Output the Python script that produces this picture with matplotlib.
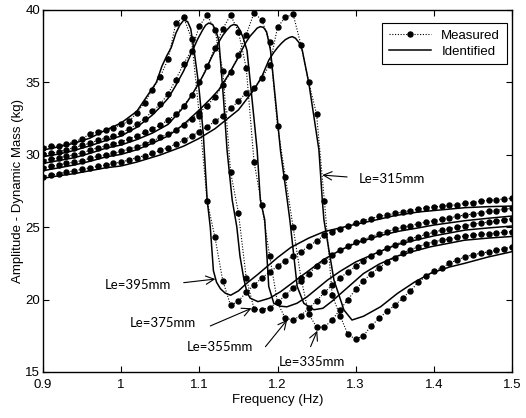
import numpy as np
import matplotlib
matplotlib.use("Agg")
import matplotlib.pyplot as plt

plt.rcParams["font.family"] = ["Liberation Sans", "DejaVu Sans"]

# measured sweep (Hz)
freq_meas = [0.90, 0.91, 0.92, 0.93, 0.94, 0.95, 0.96, 0.97, 0.98, 0.99,
             1.00, 1.01, 1.02, 1.03, 1.04, 1.05, 1.06, 1.07, 1.08, 1.09,
             1.10, 1.11, 1.12, 1.13, 1.14, 1.15, 1.16, 1.17, 1.18, 1.19,
             1.20, 1.21, 1.22, 1.23, 1.24, 1.25, 1.26, 1.27, 1.28, 1.29,
             1.30, 1.31, 1.32, 1.33, 1.34, 1.35, 1.36, 1.37, 1.38, 1.39,
             1.40, 1.41, 1.42, 1.43, 1.44, 1.45, 1.46, 1.47, 1.48, 1.49,
             1.50]

meas_395 = [30.50, 30.60, 30.60, 30.75, 30.90, 31.10, 31.45, 31.60, 31.70, 31.85,
            32.10, 32.30, 32.90, 33.60, 34.50, 35.40, 36.60, 39.10, 39.50, 38.00,
            32.70, 26.80, 24.30, 21.30, 19.60, 19.90, 20.50, 21.00, 21.50, 21.90,
            22.30, 22.70, 23.00, 23.30, 23.70, 24.05, 24.45, 24.70, 24.90, 25.10,
            25.30, 25.45, 25.60, 25.75, 25.85, 25.95, 26.05, 26.15, 26.25, 26.35,
            26.40, 26.45, 26.50, 26.55, 26.65, 26.70, 26.80, 26.85, 26.90, 26.95,
            27.00]
meas_375 = [30.05, 30.10, 30.20, 30.35, 30.50, 30.65, 30.80, 31.00, 31.15, 31.30,
            31.50, 31.80, 32.10, 32.50, 33.00, 33.50, 34.20, 35.20, 36.30, 37.20,
            38.90, 39.65, 38.60, 35.80, 28.80, 26.00, 21.50, 19.35, 19.30, 19.45,
            19.80, 20.30, 20.80, 21.30, 21.80, 22.30, 22.70, 23.10, 23.40, 23.70,
            23.95, 24.15, 24.35, 24.55, 24.70, 24.85, 25.00, 25.10, 25.25, 25.35,
            25.45, 25.55, 25.65, 25.75, 25.85, 25.90, 26.00, 26.10, 26.15, 26.25,
            26.30]
meas_355 = [29.60, 29.70, 29.80, 29.90, 30.00, 30.15, 30.30, 30.50, 30.60, 30.75,
            30.90, 31.10, 31.30, 31.55, 31.80, 32.05, 32.40, 32.80, 33.40, 34.10,
            35.00, 36.10, 37.40, 38.70, 39.65, 38.50, 36.00, 29.50, 26.50, 23.00,
            19.80, 18.70, 18.60, 18.90, 19.40, 19.90, 20.50, 21.00, 21.50, 21.90,
            22.30, 22.70, 23.00, 23.30, 23.55, 23.80, 24.00, 24.20, 24.35, 24.50,
            24.65, 24.80, 24.90, 25.00, 25.10, 25.20, 25.30, 25.35, 25.45, 25.50,
            25.60]
meas_335 = [29.10, 29.20, 29.30, 29.40, 29.50, 29.60, 29.75, 29.90, 30.00, 30.10,
            30.25, 30.40, 30.55, 30.75, 30.95, 31.20, 31.45, 31.70, 32.05, 32.45,
            32.90, 33.40, 34.00, 34.80, 35.70, 36.90, 38.30, 39.80, 39.30, 37.80,
            32.00, 28.50, 25.00, 21.50, 19.00, 18.10, 18.10, 18.60, 19.30, 20.00,
            20.70, 21.30, 21.80, 22.20, 22.60, 22.90, 23.20, 23.45, 23.65, 23.85,
            24.00, 24.10, 24.20, 24.30, 24.40, 24.45, 24.50, 24.55, 24.60, 24.65,
            24.70]
meas_315 = [28.50, 28.60, 28.70, 28.80, 28.90, 29.00, 29.10, 29.20, 29.30, 29.40,
            29.50, 29.65, 29.80, 29.95, 30.10, 30.30, 30.50, 30.75, 31.00, 31.30,
            31.60, 31.95, 32.30, 32.70, 33.20, 33.70, 34.30, 34.60, 35.30, 36.20,
            38.80, 39.50, 39.70, 37.60, 35.00, 32.80, 26.80, 20.30, 18.90, 17.60,
            17.26, 17.50, 18.20, 18.70, 19.20, 19.60, 20.10, 20.60, 21.20, 21.60,
            21.95, 22.20, 22.50, 22.75, 22.95, 23.10, 23.20, 23.30, 23.40, 23.50,
            23.65]

# identified model curves
f_id_395 = [0.90, 0.92, 0.94, 0.96, 0.98, 1.00, 1.02, 1.035, 1.045, 1.052, 1.058,
            1.064, 1.070, 1.075, 1.080, 1.085, 1.089, 1.093, 1.099, 1.105, 1.110,
            1.114, 1.118, 1.122, 1.127, 1.133, 1.140, 1.150, 1.160, 1.175, 1.187,
            1.20, 1.217, 1.24, 1.26, 1.28, 1.30, 1.33, 1.35, 1.38, 1.40, 1.44,
            1.47, 1.50]
a_id_395 = [30.33, 30.55, 30.80, 31.15, 31.70, 32.20, 33.00, 34.20, 35.00, 36.10,
            36.80, 37.40, 38.40, 38.95, 39.30, 39.20, 38.70, 37.30, 34.90, 31.50,
            26.90, 25.00, 22.00, 21.20, 20.75, 20.45, 20.30, 20.60, 21.10, 21.75,
            22.30, 22.90, 23.60, 24.25, 24.70, 24.95, 25.20, 25.55, 25.80, 26.05,
            26.15, 26.35, 26.42, 26.46]
f_id_375 = [0.90, 0.92, 0.94, 0.96, 0.98, 1.00, 1.02, 1.04, 1.05, 1.06, 1.07,
            1.08, 1.086, 1.092, 1.098, 1.104, 1.108, 1.112, 1.117, 1.121, 1.125,
            1.131, 1.1355, 1.142, 1.148, 1.152, 1.157, 1.161, 1.165, 1.175, 1.19,
            1.204, 1.23, 1.26, 1.28, 1.30, 1.33, 1.353, 1.38, 1.40, 1.44, 1.47, 1.50]
a_id_375 = [29.87, 30.05, 30.30, 30.62, 30.98, 31.30, 31.90, 32.75, 33.30, 33.90,
            34.80, 35.80, 36.55, 37.30, 38.00, 38.60, 38.95, 39.10, 39.00, 38.60,
            37.90, 33.80, 30.30, 26.90, 25.00, 23.00, 21.40, 20.50, 20.10, 19.86,
            20.10, 20.55, 21.60, 22.80, 23.40, 23.90, 24.40, 24.70, 24.95, 25.15,
            25.45, 25.62, 25.77]
f_id_355 = [0.90, 0.92, 0.94, 0.96, 0.98, 1.00, 1.02, 1.04, 1.06, 1.08, 1.09,
            1.10, 1.107, 1.114, 1.12, 1.125, 1.13, 1.135, 1.14, 1.144, 1.148,
            1.152, 1.156, 1.161, 1.1675, 1.174, 1.178, 1.1837, 1.1888, 1.1953,
            1.203, 1.212, 1.225, 1.238, 1.264, 1.28, 1.30, 1.33, 1.353, 1.38,
            1.40, 1.44, 1.47, 1.50]
a_id_355 = [29.41, 29.60, 29.80, 30.10, 30.45, 30.68, 31.05, 31.50, 32.10, 33.30,
            34.10, 35.00, 35.70, 36.55, 37.20, 37.80, 38.25, 38.60, 38.90, 39.00,
            38.95, 38.60, 38.10, 37.20, 33.80, 30.30, 26.90, 25.50, 20.90, 19.74,
            19.55, 19.50, 19.75, 20.20, 21.35, 21.95, 22.60, 23.30, 23.80, 24.15,
            24.40, 24.80, 24.95, 25.08]
f_id_335 = [0.90, 0.92, 0.94, 0.96, 0.98, 1.00, 1.02, 1.04, 1.06, 1.08, 1.10,
            1.115, 1.125, 1.137, 1.148, 1.155, 1.16, 1.165, 1.17, 1.174, 1.178,
            1.182, 1.186, 1.191, 1.1974, 1.2038, 1.2124, 1.2158, 1.2252, 1.2337,
            1.2465, 1.258, 1.27, 1.29, 1.31, 1.33, 1.353, 1.375, 1.396, 1.42,
            1.439, 1.47, 1.50]
a_id_335 = [28.90, 29.10, 29.30, 29.55, 29.85, 30.03, 30.35, 30.80, 31.30, 32.10,
            33.10, 33.90, 34.50, 35.50, 36.55, 37.30, 37.80, 38.20, 38.50, 38.75,
            38.85, 38.80, 38.50, 37.24, 33.80, 30.30, 26.90, 25.50, 20.90, 19.74,
            19.30, 19.40, 19.90, 20.85, 21.80, 22.45, 23.00, 23.35, 23.65, 23.90,
            24.10, 24.25, 24.36]
f_id_315 = [0.90, 0.92, 0.94, 0.96, 0.98, 1.00, 1.02, 1.05, 1.08, 1.10, 1.12,
            1.15, 1.17, 1.18, 1.189, 1.195, 1.20, 1.205, 1.21, 1.215, 1.219,
            1.223, 1.2275, 1.2316, 1.2401, 1.2466, 1.253, 1.2573, 1.2594, 1.2722,
            1.285, 1.2953, 1.31, 1.332, 1.3535, 1.375, 1.396, 1.42, 1.439, 1.47,
            1.50]
a_id_315 = [28.38, 28.55, 28.70, 28.90, 29.10, 29.23, 29.50, 29.99, 30.60, 31.14,
            31.80, 33.10, 34.50, 35.40, 36.55, 37.05, 37.40, 37.70, 37.95, 38.10,
            38.16, 38.05, 37.75, 37.24, 34.94, 32.63, 30.33, 26.88, 25.50, 21.35,
            19.28, 18.59, 18.85, 19.51, 20.43, 21.20, 21.82, 22.25, 22.50, 22.95,
            23.31]

measured = [meas_395, meas_375, meas_355, meas_335, meas_315]
identified = [(f_id_395, a_id_395), (f_id_375, a_id_375), (f_id_355, a_id_355),
              (f_id_335, a_id_335), (f_id_315, a_id_315)]

# label text position, arrow tail, arrow tip (data coords)
labels = ["Le=315mm", "Le=395mm", "Le=375mm", "Le=355mm", "Le=335mm"]
label_xy = [(1.304, 28.3), (0.9795, 21.0), (1.0115, 18.36), (1.0842, 16.75), (1.2017, 15.71)]
tail_xy = [(1.289, 28.47), (1.080, 21.17), (1.114, 18.18), (1.1846, 16.75), (1.2423, 16.75)]
tip_xy = [(1.2573, 28.6), (1.1205, 21.42), (1.1667, 19.4), (1.2124, 18.6), (1.2509, 17.85)]

fig = plt.figure(figsize=(5.26, 4.18), dpi=100)
ax = fig.add_axes([43 / 526, 46 / 418, 469 / 526, 362 / 418])

dot_style = dict(color="k", linestyle=(0, (1, 1.5)), linewidth=0.8, marker="o",
                 markersize=3.6, markerfacecolor="k", markeredgecolor="k")
for vals in measured:
    ax.plot(freq_meas, vals, **dot_style)
for f, a in identified:
    ax.plot(f, a, color="k", linewidth=1.1)

# legend handles
ax.plot([], [], label="Measured", **dot_style)
ax.plot([], [], color="k", linewidth=1.1, label="Identified")
leg = ax.legend(loc="upper right", bbox_to_anchor=(0.989, 0.965), borderaxespad=0,
                fancybox=False, framealpha=1, edgecolor="k", numpoints=1,
                handlelength=3.2, fontsize=9.5, borderpad=0.5, labelspacing=0.3)
leg.get_frame().set_linewidth(0.8)

for text, (tx, ty), tail, tip in zip(labels, label_xy, tail_xy, tip_xy):
    ax.text(tx, ty, text, fontsize=9.5, family=["Lato", "DejaVu Sans"],
            ha="left", va="center")
    ax.annotate("", xy=tip, xytext=tail,
                arrowprops=dict(arrowstyle="->,head_length=0.6,head_width=0.3",
                                color="k", lw=0.8, shrinkA=0, shrinkB=0))

ax.set_xlim(0.9, 1.5)
ax.set_ylim(15, 40)
ax.set_xticks([0.9, 1.0, 1.1, 1.2, 1.3, 1.4, 1.5])
ax.set_xticklabels(["0.9", "1", "1.1", "1.2", "1.3", "1.4", "1.5"])
ax.set_yticks([15, 20, 25, 30, 35, 40])
ax.tick_params(direction="in", top=True, right=True, length=4, width=0.8,
               labelsize=9.5)
ax.tick_params(axis="x", pad=5)
ax.tick_params(axis="y", pad=2)
for sp in ax.spines.values():
    sp.set_linewidth(1.0)
ax.set_xlabel("Frequency (Hz)", fontsize=9.5, labelpad=2)
ax.set_ylabel("Amplitude - Dynamic Mass (kg)", fontsize=9.5, labelpad=1)

fig.savefig("out.png", dpi=100)
